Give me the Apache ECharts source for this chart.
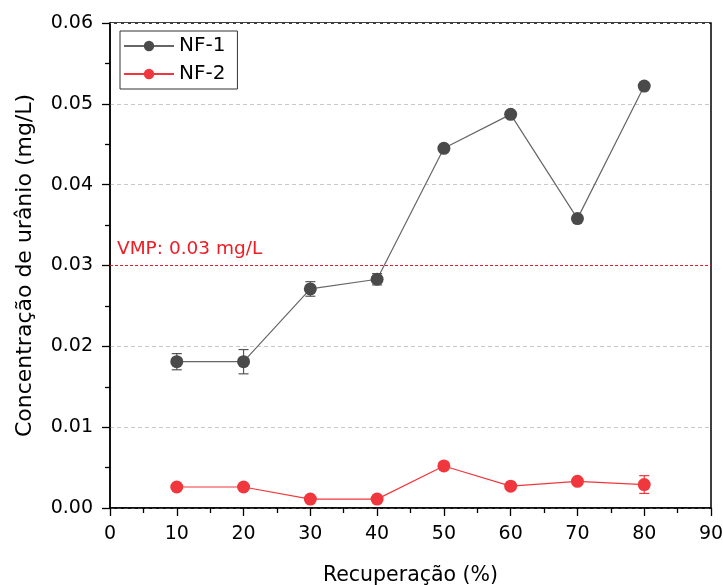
<!DOCTYPE html>
<html><head><meta charset="utf-8">
<script src="https://cdn.jsdelivr.net/npm/echarts@6/dist/echarts.min.js"></script>
<style>html,body{margin:0;padding:0;background:#fff}#c{width:723px;height:585px}</style>
</head><body><div id="c"></div>
<script>
const recovery = [10, 20, 30, 40, 50, 60, 70, 80];
const nf1 = [0.0181, 0.0181, 0.0271, 0.0283, 0.0445, 0.0487, 0.0358, 0.0522];
const nf1Err = [0.0010, 0.0015, 0.0009, 0.0007, 0.0002, 0.0002, 0.0002, 0.0002];
const nf2 = [0.0026, 0.0026, 0.0011, 0.0011, 0.0052, 0.0027, 0.0033, 0.0029];
const nf2Err = [0.0002, 0.0002, 0.0002, 0.0002, 0.0004, 0.0002, 0.0002, 0.0011];
const vmp = 0.03;

const C1 = '#4a4a4a', L1 = '#666666', C2 = '#f0373d';
const font = 'DejaVu Sans, Liberation Sans, Arial, sans-serif';

function errSeries(vals, errs, color) {
  return {
    type: 'custom', silent: true, z: 1,
    data: recovery.map((x, i) => [x, vals[i] - errs[i], vals[i] + errs[i]]),
    renderItem: function (params, api) {
      const lo = api.coord([api.value(0), api.value(1)]);
      const hi = api.coord([api.value(0), api.value(2)]);
      const w = 5;
      const st = { stroke: color, lineWidth: 1.2 };
      return { type: 'group', children: [
        { type: 'line', shape: { x1: lo[0], y1: lo[1], x2: hi[0], y2: hi[1] }, style: st },
        { type: 'line', shape: { x1: lo[0] - w, y1: lo[1], x2: lo[0] + w, y2: lo[1] }, style: st },
        { type: 'line', shape: { x1: hi[0] - w, y1: hi[1], x2: hi[0] + w, y2: hi[1] }, style: st }
      ]};
    }
  };
}

const chart = echarts.init(document.getElementById('c'));
chart.setOption({
  animation: false,
  textStyle: { fontFamily: font },
  grid: { left: 110, right: 12, top: 23, bottom: 77, show: true, borderColor: '#000', borderWidth: 1.5, outerBoundsMode: 'none', containLabel: false },
  legend: {
    left: 120, top: 31, orient: 'vertical', itemGap: 8,
    itemWidth: 50, itemHeight: 13,
    borderColor: '#333', borderWidth: 1, padding: [5, 12, 5, 3], borderRadius: 0,
    textStyle: { fontSize: 20, color: '#000', fontFamily: font },
    data: ['NF-1', 'NF-2']
  },
  xAxis: {
    type: 'value', min: 0, max: 90, interval: 10,
    name: 'Recuperação (%)', nameLocation: 'middle', nameGap: 57,
    nameTextStyle: { fontSize: 20.5, color: '#000', fontFamily: font },
    axisLine: { lineStyle: { color: '#000', width: 1.5 } },
    axisTick: { show: true, length: 8, lineStyle: { color: '#000', width: 1.3 } },
    minorTick: { show: true, splitNumber: 2, length: 5, lineStyle: { color: '#000', width: 1.3 } },
    axisLabel: { fontSize: 19, color: '#000', margin: 17, fontFamily: font, showMaxLabel: true },
    splitLine: { show: false }
  },
  yAxis: {
    type: 'value', min: 0, max: 0.06, interval: 0.01,
    name: 'Concentração de urânio (mg/L)', nameLocation: 'middle', nameGap: 74,
    nameTextStyle: { fontSize: 22, color: '#000', fontFamily: font },
    axisLine: { show: true, lineStyle: { color: '#000', width: 1.5 } },
    axisTick: { show: true, length: 8, lineStyle: { color: '#000', width: 1.3 } },
    minorTick: { show: true, splitNumber: 2, length: 5, lineStyle: { color: '#000', width: 1.3 } },
    axisLabel: { fontSize: 19, color: '#000', margin: 17, fontFamily: font, formatter: v => v.toFixed(2) },
    splitLine: { show: true, lineStyle: { type: [4, 3], color: ['#fff', '#c8c8c8', '#c8c8c8', '#fff', '#c8c8c8', '#c8c8c8', '#fff'] } }
  },
  series: [
    errSeries(nf1, nf1Err, '#555'),
    errSeries(nf2, nf2Err, C2),
    {
      name: 'NF-1', type: 'line', z: 3,
      data: recovery.map((x, i) => [x, nf1[i]]),
      symbol: 'circle', symbolSize: 13,
      itemStyle: { color: C1 },
      lineStyle: { color: L1, width: 1.2 }
    },
    {
      name: 'NF-2', type: 'line', z: 3,
      data: recovery.map((x, i) => [x, nf2[i]]),
      symbol: 'circle', symbolSize: 13,
      itemStyle: { color: C2 },
      lineStyle: { color: C2, width: 1.2 },
      markLine: {
        silent: true, symbol: 'none', z: 2,
        lineStyle: { color: '#e0202e', type: [3, 2], width: 1.1, opacity: 1 },
        label: { show: true, position: 'insideStartTop', formatter: 'VMP: 0.03 mg/L', color: '#ee1c25', fontSize: 18.5, fontFamily: font, distance: [7, 7] },
        data: [{ yAxis: vmp, lineStyle: { color: '#e0202e', type: [3, 2], width: 1.1 } }]
      }
    }
  ]
});
</script></body></html>
